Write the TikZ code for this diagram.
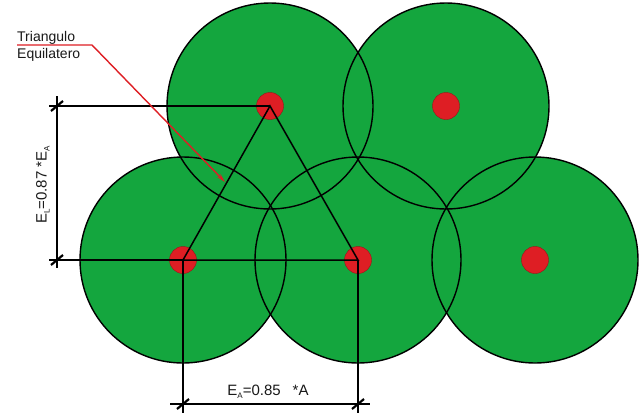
\documentclass[tikz,border=0pt]{standalone}
\usepackage{fontspec}
\setmainfont{Liberation Sans}
\usetikzlibrary{arrows.meta}
\definecolor{cgreen}{RGB}{20,166,62}
\definecolor{cred}{RGB}{222,30,36}
\newcommand\subx[1]{\raisebox{-3pt}{\fontsize{8}{8}\selectfont #1}}
\begin{document}
\begin{tikzpicture}[x=1pt,y=-1pt,
  disc/.style={fill=cgreen},
  ring/.style={draw=black,line width=1.4pt},
  dot/.style={circle,fill=cred,draw=cred!70!black,line width=0.4pt,minimum size=27pt,inner sep=0pt},
  dimline/.style={draw=black,line width=1.5pt},
  tick/.style={draw=black,line width=2.2pt},
  lbl/.style={font=\fontsize{14}{14}\selectfont,inner sep=0pt,text=black!90},
  dlbl/.style={font=\fontsize{15}{15}\selectfont,inner sep=0pt,text=black!90}]
\useasboundingbox (0,0) rectangle (644,413);
\fill[white] (0,0) rectangle (644,413);
% centres
\coordinate (c1) at (183,260);
\coordinate (c2) at (358,260);
\coordinate (c3) at (535,260);
\coordinate (c4) at (270,106);
\coordinate (c5) at (446,106);
\foreach \c in {c1,c2,c3,c4,c5} \fill[disc] (\c) circle (103pt);
\foreach \c in {c1,c2,c3,c4,c5} \draw[ring] (\c) circle (103pt);
\foreach \c/\n in {c1/d1,c2/d2,c3/d3,c4/d4,c5/d5} \node[dot] (\n) at (\c) {};
% triangle
\draw[dimline] (d4.center) -- (d1.center) -- (d2.center) -- cycle;
% dimension coordinates
\coordinate (t1) at (57,106);
\coordinate (t2) at (57,260);
\coordinate (t1e) at (49,106);
\coordinate (t2e) at (49,260);
\coordinate (vtop) at (57,96);
\coordinate (vbot) at (57,268);
\coordinate (b1) at (183,404);
\coordinate (b2) at (358,404);
\coordinate (b1e) at (183,413);
\coordinate (b2e) at (358,413);
\coordinate (hl) at (170,404);
\coordinate (hr) at (370,404);
\draw[dimline] (d4.center) -- (t1e);
\draw[dimline] (d1.center) -- (t2e);
\draw[dimline] (vtop) -- (vbot);
\draw[dimline] (d1.center) -- (b1e);
\draw[dimline] (d2.center) -- (b2e);
\draw[dimline] (hl) -- (hr);
\foreach \p in {t1,t2,b1,b2} \draw[tick] (\p) +(-6,5) -- +(6,-5);
% labels
\node[lbl,anchor=base west] (tri) at (17,41) {Triangulo};
\node[lbl,anchor=base west] (equ) at (17,58) {Equilatero};
\node[dlbl,rotate=90] (el) at (43,185) {E\subx{L}=0.87\hspace{4pt}*E\subx{A}};
\node[dlbl] (ea) at (268,392) {E\subx{A}=0.85\hspace{12pt}*A};
% leader
\coordinate (r0) at (17,45);
\coordinate (r1) at (92,45);
\coordinate (r2) at (225,182);
\draw[cred,line width=1.4pt,-{Stealth[length=9pt,width=4.5pt]}] (r0) -- (r1) -- (r2);
\end{tikzpicture}
\end{document}
